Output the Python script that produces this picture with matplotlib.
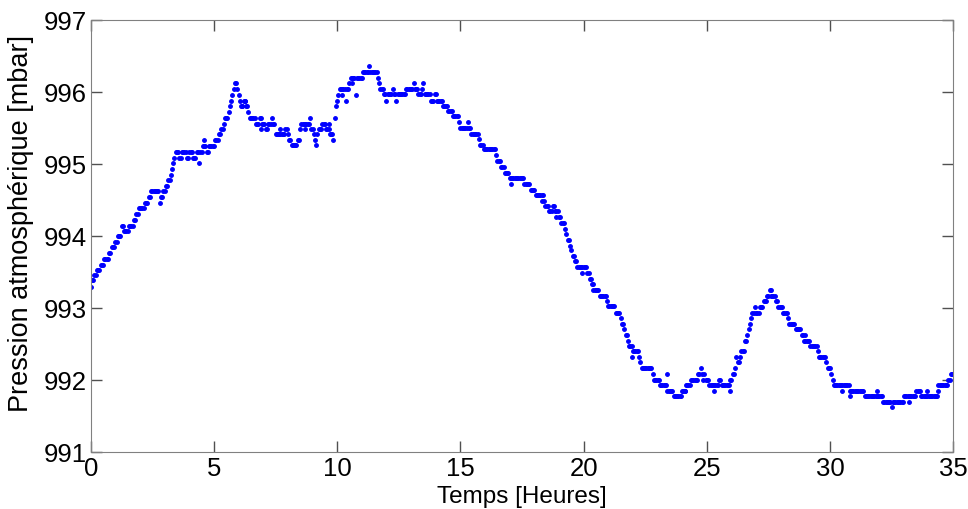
import numpy as np
import matplotlib
matplotlib.use("Agg")
from matplotlib import pyplot as plt

# pressure readings (quantised barometer): level p_step[i] holds from t_step[i]
t_step = [0.00, 0.05, 0.13, 0.25, 0.38, 0.55, 0.72, 0.85, 0.98, 1.08, 1.22, 1.32, 1.55, 1.72,
          1.82, 1.92, 2.20, 2.34, 2.45, 2.78, 2.84, 2.95, 3.05, 3.15, 3.22, 3.28, 3.33, 3.39,
          3.45, 3.60, 3.70, 3.90, 4.00, 4.15, 4.30, 4.40, 4.45, 4.52, 4.70, 4.80, 5.02, 5.17,
          5.28, 5.36, 5.42, 5.57, 5.63, 5.68, 5.73, 5.78, 5.83, 5.92, 5.98, 6.02, 6.10, 6.20,
          6.30, 6.38, 6.45, 6.70, 6.85, 6.95, 7.10, 7.20, 7.32, 7.38, 7.50, 7.90, 7.98, 8.05,
          8.12, 8.40, 8.47, 8.55, 8.88, 8.93, 9.02, 9.08, 9.13, 9.18, 9.22, 9.40, 9.55, 9.70,
          9.84, 9.88, 9.93, 9.98, 10.03, 10.10, 10.35, 10.40, 10.48, 10.53, 10.75, 10.80, 11.05,
          11.28, 11.33, 11.62, 11.70, 11.75, 11.90, 12.00, 12.05, 12.25, 12.30, 12.40, 12.45,
          12.80, 13.08, 13.13, 13.30, 13.45, 13.50, 13.55, 13.80, 13.95, 14.02, 14.30, 14.50,
          14.70, 14.95, 15.00, 15.28, 15.33, 15.45, 15.72, 15.80, 15.95, 16.42, 16.47, 16.65,
          16.80, 17.00, 17.60, 17.85, 18.05, 18.38, 18.45, 18.60, 18.75, 18.85, 18.98, 19.08,
          19.22, 19.28, 19.35, 19.42, 19.48, 19.55, 19.62, 19.72, 20.15, 20.25, 20.32, 20.45,
          20.65, 20.92, 20.97, 21.30, 21.48, 21.55, 21.62, 21.70, 21.77, 21.84, 21.96, 22.22,
          22.28, 22.35, 22.78, 22.85, 23.10, 23.40, 23.65, 24.00, 24.15, 24.35, 24.65, 24.72,
          24.77, 24.82, 24.90, 24.95, 25.10, 25.50, 25.60, 25.95, 26.05, 26.12, 26.18, 26.25,
          26.32, 26.40, 26.55, 26.62, 26.68, 26.74, 26.80, 26.85, 26.92, 27.00, 27.15, 27.30,
          27.42, 27.55, 27.65, 27.78, 27.88, 28.10, 28.30, 28.35, 28.60, 28.85, 28.95, 29.20,
          29.48, 29.53, 29.85, 29.90, 30.03, 30.08, 30.15, 30.80, 31.40, 32.15, 32.48, 32.55,
          33.00, 33.50, 33.70, 34.40, 34.78, 34.88]
p_step = [993.29, 993.38, 993.45, 993.52, 993.60, 993.68, 993.76, 993.84, 993.91, 994.00, 994.14,
          994.07, 994.14, 994.22, 994.30, 994.38, 994.46, 994.54, 994.62, 994.46, 994.54, 994.62,
          994.69, 994.77, 994.85, 994.93, 995.01, 995.08, 995.16, 995.08, 995.16, 995.08, 995.16,
          995.08, 995.16, 995.01, 995.16, 995.25, 995.16, 995.25, 995.33, 995.41, 995.48, 995.56,
          995.64, 995.72, 995.80, 995.88, 995.96, 996.04, 996.12, 996.04, 995.96, 995.88, 995.80,
          995.88, 995.80, 995.72, 995.64, 995.56, 995.64, 995.56, 995.48, 995.56, 995.64, 995.56,
          995.41, 995.48, 995.41, 995.33, 995.26, 995.33, 995.48, 995.56, 995.64, 995.48, 995.41,
          995.33, 995.26, 995.41, 995.48, 995.56, 995.48, 995.41, 995.33, 995.64, 995.80, 995.88,
          995.96, 996.04, 995.88, 996.04, 996.12, 996.20, 995.96, 996.20, 996.28, 996.36, 996.28,
          996.20, 996.12, 996.04, 995.97, 995.88, 995.97, 996.04, 995.97, 995.88, 995.97, 996.04,
          996.12, 996.04, 995.97, 996.04, 996.12, 995.97, 995.88, 995.97, 995.88, 995.81, 995.73,
          995.66, 995.58, 995.50, 995.58, 995.50, 995.42, 995.34, 995.26, 995.20, 995.12, 995.04,
          994.96, 994.88, 994.80, 994.72, 994.64, 994.57, 994.49, 994.42, 994.34, 994.42, 994.34,
          994.26, 994.18, 994.10, 994.02, 993.94, 993.86, 993.80, 993.72, 993.65, 993.57, 993.48,
          993.40, 993.33, 993.25, 993.17, 993.10, 993.02, 992.93, 992.86, 992.78, 992.70, 992.62,
          992.54, 992.47, 992.40, 992.31, 992.24, 992.16, 992.08, 992.00, 991.92, 991.85, 991.77,
          991.85, 991.92, 992.00, 992.08, 992.16, 992.08, 992.00, 992.08, 992.00, 991.92, 992.00,
          991.92, 992.00, 992.08, 992.16, 992.31, 992.24, 992.31, 992.40, 992.54, 992.62, 992.70,
          992.78, 992.86, 992.93, 993.01, 992.93, 993.01, 993.09, 993.17, 993.25, 993.17, 993.09,
          993.01, 992.93, 992.86, 992.78, 992.70, 992.62, 992.54, 992.47, 992.40, 992.31, 992.24,
          992.16, 992.08, 992.00, 991.92, 991.85, 991.77, 991.69, 991.62, 991.69, 991.77, 991.85,
          991.77, 991.93, 992.00, 992.08]

# isolated readings
t_extra = [1.15, 4.58, 6.15, 6.25, 6.90, 7.70, 8.70, 9.65, 10.20, 10.60, 12.10, 14.35, 17.05,
           18.30, 18.90, 19.92, 20.40, 21.95, 23.37, 24.10, 25.30, 25.95, 27.60, 29.00, 30.50,
           30.80, 31.90, 33.20, 33.95, 34.40]
p_extra = [994.00, 995.33, 995.80, 995.88, 995.48, 995.48, 995.48, 995.56, 995.96, 996.12,
           995.97, 995.81, 994.72, 994.49, 994.26, 993.48, 993.25, 992.31, 992.08, 991.85,
           991.85, 991.85, 993.17, 992.62, 991.85, 991.77, 991.85, 991.69, 991.85, 991.85]

dt = 0.05  # one reading every 3 minutes
t = np.arange(0, 35 + dt / 2, dt)
idx = np.searchsorted(t_step, t + 1e-9, side="right") - 1
p = np.array(p_step)[idx]

plt.rcParams["font.family"] = ["Liberation Sans", "DejaVu Sans"]

fig = plt.figure(figsize=(9.68, 5.10), dpi=100)
ax = fig.add_axes([0.0937, 0.1124, 0.8911, 0.8465])
ax.plot(t, p, ".", color="#0000ff", markersize=5)
ax.plot(t_extra, p_extra, ".", color="#0000ff", markersize=5)

ax.set_xlim(0, 35)
ax.set_ylim(991, 997)
ax.set_xticks([0, 5, 10, 15, 20, 25, 30, 35])
ax.set_yticks([991, 992, 993, 994, 995, 996, 997])
ax.tick_params(direction="in", length=8, width=1, color="#505050", labelsize=18.5,
               top=True, right=True, pad=3)
for s in ax.spines.values():
    s.set_color("#808080")
ax.set_xlabel("Temps [Heures]", fontsize=17.5, labelpad=4)
ax.set_ylabel("Pression atmosphérique [mbar]", fontsize=19.5)
ax.yaxis.set_label_coords(-0.066, 0.532)

fig.savefig("out.png", dpi=100)
